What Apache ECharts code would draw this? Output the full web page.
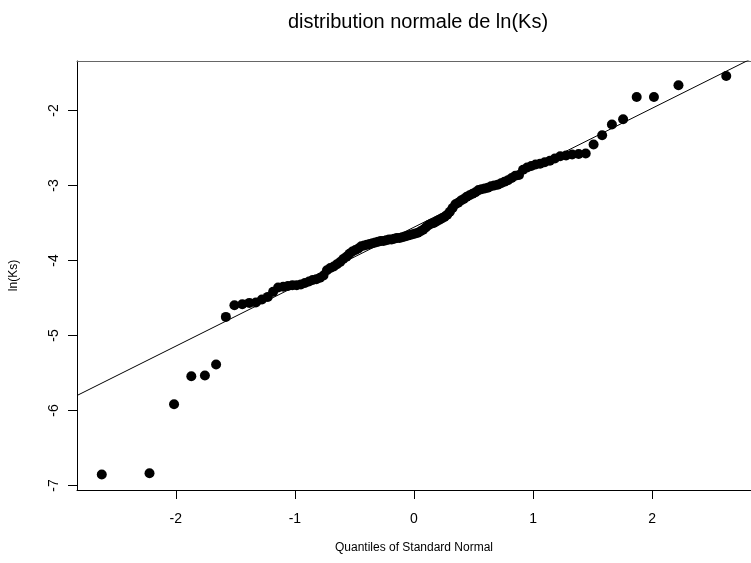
<!DOCTYPE html>
<html>
<head>
<meta charset="utf-8">
<script src="https://cdn.jsdelivr.net/npm/echarts@6/dist/echarts.min.js"></script>
<style>
  html, body { margin: 0; padding: 0; background: #fff; }
  #chart { width: 751px; height: 563px; }
</style>
</head>
<body>
<div id="chart"></div>
<script>
// quantiles théoriques (loi normale) et valeurs observées de ln(Ks), triées
var quantiles = [
  -2.622, -2.221, -2.015, -1.870, -1.756, -1.662, -1.580, -1.508, -1.442, -1.383,
  -1.328, -1.277, -1.228, -1.183, -1.141, -1.098, -1.059, -1.021, -0.985, -0.950,
  -0.916, -0.882, -0.851, -0.820, -0.789, -0.760, -0.731, -0.703, -0.674, -0.647,
  -0.620, -0.594, -0.567, -0.542, -0.517, -0.492, -0.467, -0.443, -0.418, -0.395,
  -0.371, -0.348, -0.324, -0.301, -0.279, -0.256, -0.233, -0.210, -0.188, -0.166,
  -0.144, -0.121, -0.099, -0.077, -0.055, -0.033, -0.011,
  0.011, 0.033, 0.055, 0.077, 0.099, 0.121, 0.144, 0.166, 0.188, 0.210,
  0.233, 0.256, 0.279, 0.301, 0.324, 0.348, 0.371, 0.395, 0.418, 0.443,
  0.467, 0.492, 0.517, 0.542, 0.567, 0.594, 0.620, 0.647, 0.674, 0.703,
  0.731, 0.760, 0.789, 0.820, 0.851, 0.882, 0.916, 0.950, 0.985, 1.021,
  1.059, 1.098, 1.141, 1.183, 1.228, 1.277, 1.328, 1.383, 1.442, 1.508,
  1.580, 1.662, 1.756, 1.870, 2.015, 2.221, 2.622
];
var lnKs = [
  -6.853, -6.836, -5.916, -5.543, -5.533, -5.387, -4.752, -4.596, -4.583, -4.565,
  -4.560, -4.520, -4.485, -4.418, -4.360, -4.350, -4.340, -4.330, -4.330, -4.320,
  -4.300, -4.280, -4.260, -4.250, -4.230, -4.200, -4.130, -4.100, -4.080, -4.050,
  -4.020, -3.980, -3.950, -3.910, -3.880, -3.860, -3.840, -3.810, -3.800, -3.790,
  -3.780, -3.770, -3.760, -3.750, -3.740, -3.740, -3.730, -3.720, -3.720, -3.710,
  -3.700, -3.700, -3.690, -3.680, -3.670, -3.660, -3.650,
  -3.640, -3.630, -3.610, -3.590, -3.560, -3.530, -3.510, -3.500, -3.480, -3.460,
  -3.440, -3.420, -3.390, -3.350, -3.300, -3.250, -3.230, -3.200, -3.180, -3.150,
  -3.130, -3.110, -3.090, -3.060, -3.050, -3.040, -3.030, -3.010, -3.000, -2.990,
  -2.970, -2.950, -2.930, -2.900, -2.870, -2.860, -2.790, -2.760, -2.740, -2.720,
  -2.710, -2.690, -2.670, -2.640, -2.610, -2.600, -2.587, -2.580, -2.573, -2.453,
  -2.330, -2.187, -2.116, -1.820, -1.820, -1.663, -1.539
];
var xTicks = [-2, -1, 0, 1, 2];
var yTicks = [-7, -6, -5, -4, -3, -2];
var xRange = [-2.83, 2.83];
var yRange = [-7.06, -1.34];
// droite de Henry (qqline)
var lineIntercept = -3.556;
var lineSlope = 0.793;

var points = quantiles.map(function (q, i) { return [q, lnKs[i]]; });
var linePts = xRange.map(function (x) { return [x, lineIntercept + lineSlope * x]; });

var chart = echarts.init(document.getElementById('chart'));
var font = 'Liberation Sans, Arial, sans-serif';
chart.setOption({
    animation: false,
    backgroundColor: '#fff',
    title: {
        text: 'distribution normale de ln(Ks)',
        left: 413, top: 7, textAlign: 'center',
        textStyle: { fontFamily: font, fontSize: 20, fontWeight: 'normal', color: '#000' }
    },
    grid: { left: 77, top: 61, width: 682, height: 429, show: false },
    xAxis: [{
        type: 'value', min: xRange[0], max: xRange[1],
        name: 'Quantiles of Standard Normal', nameLocation: 'middle', nameGap: 52,
        nameTextStyle: { fontFamily: font, fontSize: 12, color: '#000' },
        axisLine: { show: true, onZero: false, lineStyle: { color: '#000', width: 1 } },
        axisTick: { show: true, inside: false, length: 9, customValues: xTicks, lineStyle: { color: '#000' } },
        axisLabel: { customValues: xTicks, margin: 22, fontFamily: font, fontSize: 14, color: '#000' },
        splitLine: { show: false }
    }, {
        // bord supérieur du cadre
        type: 'value', position: 'top', min: xRange[0], max: xRange[1],
        axisLine: { show: true, onZero: false, lineStyle: { color: '#666', width: 1 } },
        axisTick: { show: false }, axisLabel: { show: false }, splitLine: { show: false }
    }],
    yAxis: {
        type: 'value', min: yRange[0], max: yRange[1],
        name: 'ln(Ks)', nameLocation: 'middle', nameRotate: 90, nameGap: 57,
        nameTextStyle: { fontFamily: font, fontSize: 12, color: '#000' },
        axisLine: { show: true, onZero: false, lineStyle: { color: '#000', width: 1 } },
        axisTick: { show: true, inside: false, length: 9, customValues: yTicks, lineStyle: { color: '#000' } },
        axisLabel: { customValues: yTicks, rotate: 90, margin: 16, fontFamily: font, fontSize: 14, color: '#000' },
        splitLine: { show: false }
    },
    series: [
        {
            type: 'line', data: linePts, symbol: 'none', clip: true,
            lineStyle: { color: '#000', width: 1 }, silent: true
        },
        {
            type: 'scatter', data: points, symbol: 'circle', symbolSize: 10,
            itemStyle: { color: '#000', opacity: 1 }
        }
    ]
});
</script>
</body>
</html>
